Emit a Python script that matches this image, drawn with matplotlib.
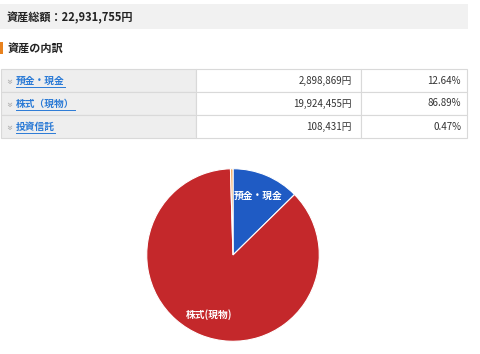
"""Asset breakdown: header, table and pie chart."""

import matplotlib

matplotlib.use("Agg")
import matplotlib.pyplot as plt  # noqa: E402
from matplotlib.patches import Rectangle  # noqa: E402

plt.rcParams["font.family"] = ["Noto Sans CJK JP", "DejaVu Sans"]

TOTAL_LABEL = "資産総額："
TOTAL_VALUE = "22,931,755円"
SECTION = "資産の内訳"

categories = ["預金・現金", "株式（現物）", "投資信託"]
pie_labels = ["預金・現金", "株式(現物)", ""]
amounts = ["2,898,869円", "19,924,455円", "108,431円"]
shares = [12.64, 86.89, 0.47]
colors = ["#1f5bc4", "#c4282b", "#f2a65a"]

W, H = 480, 354
fig = plt.figure(figsize=(W / 100, H / 100), dpi=100)

# page layer in pixel coordinates
page = fig.add_axes([0, 0, 1, 1])
page.set_xlim(0, W)
page.set_ylim(H, 0)
page.axis("off")

# total header band
page.add_patch(Rectangle((0, 4), 468, 25, color="#f1f1f1", lw=0))
page.text(7, 17.5, TOTAL_LABEL + TOTAL_VALUE, fontsize=8,
          fontweight="bold", va="center", color="#222222")

# section title with orange marker
page.add_patch(Rectangle((0, 42), 3, 12, color="#e8821e", lw=0))
page.text(8, 48, SECTION, fontsize=8, fontweight="bold", va="center",
          color="#222222")

# breakdown table
top, row_h = 69, 23
col_x = [1, 196, 361, 467]
border = "#d9d9d9"
links = []
for i, (cat, amt, pct) in enumerate(zip(categories, amounts, shares)):
    y0 = top + i * row_h
    yc = y0 + row_h / 2
    page.add_patch(Rectangle((col_x[0], y0), col_x[1] - col_x[0], row_h,
                             facecolor="#eeeeee", edgecolor=border, lw=0.8))
    page.add_patch(Rectangle((col_x[1], y0), col_x[2] - col_x[1], row_h,
                             facecolor="white", edgecolor=border, lw=0.8))
    page.add_patch(Rectangle((col_x[2], y0), col_x[3] - col_x[2], row_h,
                             facecolor="white", edgecolor=border, lw=0.8))
    page.text(8.5, yc, "»", fontsize=8, rotation=-90, ha="center",
              va="center", color="#a0a0a0")
    t = page.text(16, yc, cat, fontsize=7, fontweight="bold", va="center",
                  color="#2a7ad6")
    links.append((t, yc))
    page.text(352, yc, amt, fontsize=7, ha="right", va="center",
              color="#333333")
    page.text(461, yc, f"{pct:.2f}%", fontsize=7, ha="right", va="center",
              color="#333333")

# underline the link texts
fig.canvas.draw()
inv = page.transData.inverted()
for t, yc in links:
    bb = t.get_window_extent()
    (x0, _), (x1, _) = inv.transform([(bb.x0, bb.y0), (bb.x1, bb.y0)])
    page.plot([x0, x1], [yc + 6, yc + 6], color="#2a7ad6", lw=0.7)

# pie chart
cx, cy, r = 233, 255, 88
pie_ax = fig.add_axes([(cx - r) / W, (H - cy - r) / H, 2 * r / W, 2 * r / H])
pie_ax.pie(shares, labels=pie_labels, colors=colors, startangle=90,
           counterclock=False, labeldistance=0.74,
           wedgeprops=dict(edgecolor="white", linewidth=0.8),
           textprops=dict(color="white", fontsize=7, fontweight="bold",
                          ha="center", va="center"))
pie_ax.set_xlim(-1.02, 1.02)
pie_ax.set_ylim(-1.02, 1.02)
pie_ax.axis("off")

fig.savefig("out.png", dpi=100)
